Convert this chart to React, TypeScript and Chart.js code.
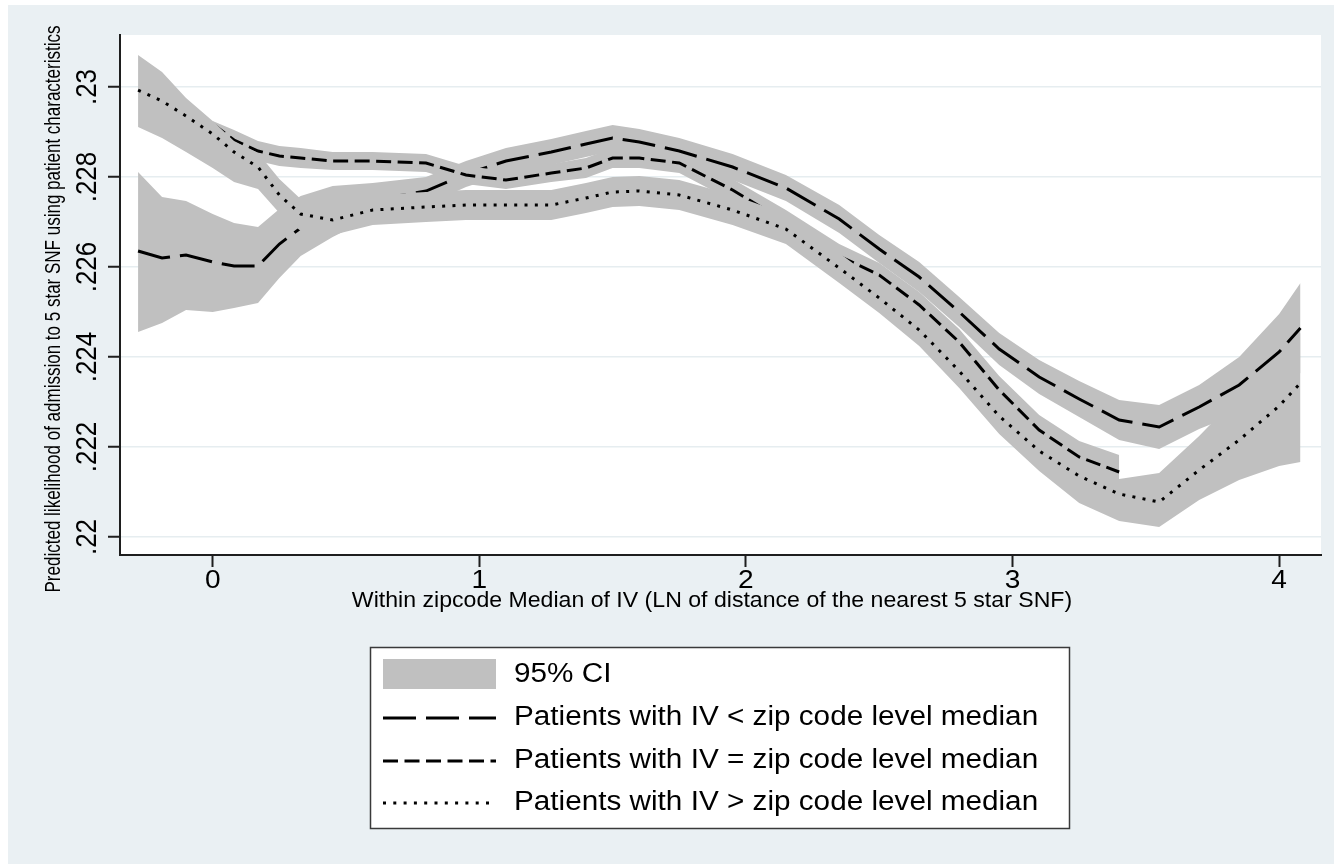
import React, { useEffect, useRef } from "react";
import { Chart, registerables } from "chart.js";

Chart.register(...registerables);

// ---------- data ----------
const xGrid = [-0.28, -0.19, -0.1, 0.0, 0.08, 0.17, 0.25, 0.33, 0.45, 0.6, 0.8, 0.95, 1.1, 1.27, 1.4, 1.5, 1.6, 1.75, 1.95, 2.15, 2.35, 2.5, 2.65, 2.8, 2.95, 3.1, 3.25, 3.4, 3.55, 3.7, 3.85, 4.0, 4.08];

// Patients with IV < zip code level median
const ivBelow = [0.226356, 0.2262, 0.226267, 0.226111, 0.226022, 0.226022, 0.226511, 0.226867, 0.2272, 0.227489, 0.227689, 0.228067, 0.228356, 0.228556, 0.228733, 0.228867, 0.228778, 0.228578, 0.228222, 0.227756, 0.227067, 0.2264, 0.225778, 0.225, 0.224178, 0.223556, 0.223067, 0.2226, 0.222444, 0.222889, 0.223378, 0.224111, 0.224644];
const ivBelowHi = [0.228111, 0.227556, 0.227467, 0.227178, 0.226978, 0.226889, 0.227289, 0.227578, 0.2278, 0.227867, 0.228, 0.228356, 0.228644, 0.228844, 0.229022, 0.229156, 0.229067, 0.228867, 0.228511, 0.228044, 0.227378, 0.226711, 0.226111, 0.225333, 0.224533, 0.223933, 0.223467, 0.223044, 0.222933, 0.223378, 0.224, 0.224956, 0.225644];
const ivBelowLo = [0.224556, 0.224756, 0.225044, 0.225, 0.225089, 0.2252, 0.225756, 0.226244, 0.226667, 0.227111, 0.227378, 0.227778, 0.228067, 0.228267, 0.228444, 0.228578, 0.228489, 0.228289, 0.227933, 0.227467, 0.226756, 0.226089, 0.225444, 0.224667, 0.223822, 0.223178, 0.222667, 0.222156, 0.221956, 0.2224, 0.222756, 0.223267, 0.223644];

// Patients with IV = zip code level median
const ivEqual = [null, null, null, 0.229178, 0.228822, 0.228578, 0.228467, 0.228422, 0.228356, 0.228356, 0.228311, 0.228044, 0.227933, 0.228089, 0.2282, 0.228422, 0.228422, 0.228311, 0.227711, 0.227, 0.226244, 0.225822, 0.225156, 0.224333, 0.223267, 0.222378, 0.221778, 0.221444, null, null, null, null, null];
const ivEqualHi = [null, null, null, 0.229244, 0.229044, 0.2288, 0.228689, 0.228644, 0.228556, 0.228556, 0.228511, 0.228244, 0.228133, 0.228289, 0.228422, 0.228644, 0.228644, 0.228533, 0.227956, 0.227267, 0.226511, 0.226089, 0.225444, 0.224622, 0.223578, 0.222711, 0.222133, 0.221822, null, null, null, null, null];
const ivEqualLo = [null, null, null, 0.228956, 0.2286, 0.228356, 0.228244, 0.2282, 0.228156, 0.228156, 0.228111, 0.227844, 0.227733, 0.227889, 0.227978, 0.2282, 0.2282, 0.228089, 0.227467, 0.226733, 0.225978, 0.225556, 0.224867, 0.224044, 0.222956, 0.222044, 0.221422, 0.221067, null, null, null, null, null];

// Patients with IV > zip code level median
const ivAbove = [0.229933, 0.229689, 0.229356, 0.228956, 0.228556, 0.228222, 0.2276, 0.227178, 0.227044, 0.227267, 0.227333, 0.227378, 0.227378, 0.227378, 0.227533, 0.227667, 0.227689, 0.2276, 0.227267, 0.226844, 0.225978, 0.225311, 0.2246, 0.223689, 0.222689, 0.221911, 0.221356, 0.220956, 0.220778, 0.221489, 0.222156, 0.222911, 0.223422];
const ivAboveHi = [0.230711, 0.230333, 0.229756, 0.229244, 0.2288, 0.228533, 0.227956, 0.227511, 0.227378, 0.2276, 0.227667, 0.227711, 0.227711, 0.227711, 0.227867, 0.228, 0.228022, 0.227933, 0.2276, 0.227178, 0.226311, 0.225644, 0.224956, 0.224067, 0.223089, 0.222244, 0.221711, 0.221289, 0.221422, 0.222244, 0.223156, 0.224022, 0.224533];
const ivAboveLo = [0.229111, 0.228867, 0.228556, 0.2282, 0.227889, 0.227733, 0.2272, 0.2268, 0.226711, 0.226933, 0.227, 0.227044, 0.227044, 0.227044, 0.2272, 0.227333, 0.227356, 0.227267, 0.226933, 0.226511, 0.225644, 0.224978, 0.224244, 0.223311, 0.222289, 0.221467, 0.220756, 0.220356, 0.220222, 0.220822, 0.221267, 0.221578, 0.221667];

const xTicks = [0, 1, 2, 3, 4];
const xTickLabels = ["0", "1", "2", "3", "4"];
const yTicks = [0.22, 0.222, 0.224, 0.226, 0.228, 0.23];
const yTickLabels = [".22", ".222", ".224", ".226", ".228", ".23"];

const xTitle = "Within zipcode Median of IV (LN of distance of the nearest 5 star SNF)";
const yTitle = "Predicted likelihood of admission to 5 star SNF using patient characteristics";
const legendLabels = [
  "95% CI",
  "Patients with IV < zip code level median",
  "Patients with IV = zip code level median",
  "Patients with IV > zip code level median",
];

// ---------- styles ----------
const GRAY = "#c0c0c0";
const BG = "#eaf0f3";
const AXIS = "#1e1e1e";
const FONT = '"Liberation Sans", Arial, sans-serif';
const DASH_LONG = [33, 10];
const DASH_MED = [15, 6.5];
const DASH_DOT = [3, 7.3];

function pts(arr: (number | null)[]) {
  return xGrid
    .map((x, i) => ({ x, y: arr[i] }))
    .filter((p) => p.y !== null && p.y !== undefined);
}

function drawText(
  ctx: CanvasRenderingContext2D,
  text: string,
  x: number,
  y: number,
  size: number,
  align: CanvasTextAlign,
  rotate: boolean,
  sx: number
) {
  ctx.save();
  ctx.translate(x, y);
  ctx.scale(sx, 1);
  if (rotate) ctx.rotate(-Math.PI / 2);
  ctx.font = `${size}px ${FONT}`;
  ctx.textAlign = align;
  ctx.textBaseline = "middle";
  ctx.fillStyle = "#000";
  ctx.fillText(text, 0, 0);
  ctx.restore();
}

const decorPlugin = {
  id: "decor",
  beforeDraw(chart: any) {
    const { ctx, chartArea } = chart;
    ctx.save();
    ctx.fillStyle = "#ffffff";
    ctx.fillRect(0, 0, chart.width, chart.height);
    ctx.fillStyle = BG;
    ctx.fillRect(8, 5, chart.width - 8, chart.height - 5);
    ctx.fillStyle = "#ffffff";
    ctx.fillRect(chartArea.left, chartArea.top, chartArea.right - chartArea.left, chartArea.bottom - chartArea.top);
    ctx.restore();
  },
  afterDraw(chart: any) {
    const { ctx, scales } = chart;
    const xs = scales.x;
    const ys = scales.y;
    // y tick labels (rotated)
    yTicks.forEach((v, i) => {
      drawText(ctx, yTickLabels[i], 88, ys.getPixelForValue(v), 26, "center", true, 1.1);
    });
    // x tick labels
    xTicks.forEach((v, i) => {
      drawText(ctx, xTickLabels[i], xs.getPixelForValue(v), 581, 26, "center", false, 1.08);
    });
    // axis titles
    drawText(ctx, xTitle, 712, 601, 22, "center", false, 1.05);
    drawText(ctx, yTitle, 54, 309, 17, "center", true, 1.35);

    // legend
    const bx = 370, by = 647, bw = 699, bh = 181;
    ctx.save();
    ctx.fillStyle = "#ffffff";
    ctx.fillRect(bx, by, bw, bh);
    ctx.strokeStyle = "#3a3a3a";
    ctx.lineWidth = 1.5;
    ctx.strokeRect(bx + 0.5, by + 0.5, bw, bh);
    const rows = [675, 718, 761, 803];
    const sx0 = 383, sx1 = 496;
    ctx.fillStyle = GRAY;
    ctx.fillRect(sx0, 659, sx1 - sx0, 30);
    const dashes = [DASH_LONG, DASH_MED, DASH_DOT];
    ctx.strokeStyle = "#000";
    ctx.lineWidth = 3;
    ctx.lineCap = "butt";
    dashes.forEach((d, i) => {
      ctx.setLineDash(d);
      ctx.beginPath();
      ctx.moveTo(sx0, rows[i + 1]);
      ctx.lineTo(sx1, rows[i + 1]);
      ctx.stroke();
    });
    ctx.setLineDash([]);
    ctx.restore();
    legendLabels.forEach((t, i) => {
      drawText(ctx, t, 514, rows[i], 27, "left", false, 1.1);
    });
  },
};

export default function App() {
  const ref = useRef<HTMLCanvasElement | null>(null);

  useEffect(() => {
    if (!ref.current) return;
    const band = (hi: (number | null)[], lo: (number | null)[], order: number) => [
      {
        data: pts(hi),
        borderColor: "rgba(0,0,0,0)",
        borderWidth: 0,
        pointRadius: 0,
        fill: "+1",
        backgroundColor: GRAY,
        order,
      },
      {
        data: pts(lo),
        borderColor: "rgba(0,0,0,0)",
        borderWidth: 0,
        pointRadius: 0,
        fill: false,
        order,
      },
    ];
    const line = (arr: (number | null)[], dash: number[], order: number) => ({
      data: pts(arr),
      borderColor: "#000",
      borderWidth: 3,
      borderDash: dash,
      borderCapStyle: "butt",
      pointRadius: 0,
      fill: false,
      tension: 0,
      order,
    });

    const chart = new Chart(ref.current, {
      type: "line",
      data: {
        datasets: [
          ...band(ivBelowHi, ivBelowLo, 6),
          line(ivBelow, DASH_LONG, 5),
          ...band(ivEqualHi, ivEqualLo, 4),
          line(ivEqual, DASH_MED, 3),
          ...band(ivAboveHi, ivAboveLo, 2),
          line(ivAbove, DASH_DOT, 1),
        ] as any,
      },
      options: {
        animation: false,
        responsive: false,
        devicePixelRatio: 1,
        layout: { padding: { top: 35, right: 13, left: 0, bottom: 0 } },
        plugins: {
          legend: { display: false },
          title: { display: false },
          tooltip: { enabled: false },
        },
        elements: { point: { radius: 0 } },
        scales: {
          x: {
            type: "linear",
            min: -0.3477,
            max: 4.157,
            afterBuildTicks: (s: any) => {
              s.ticks = xTicks.map((v) => ({ value: v }));
            },
            afterFit: (s: any) => {
              s.height = 309;
            },
            ticks: { display: false },
            grid: {
              drawOnChartArea: false,
              drawTicks: true,
              tickLength: 12,
              tickColor: AXIS,
              tickWidth: 2,
            },
            border: { display: true, color: AXIS, width: 2 },
          },
          y: {
            type: "linear",
            min: 0.2196,
            max: 0.231156,
            afterBuildTicks: (s: any) => {
              s.ticks = yTicks.map((v) => ({ value: v }));
            },
            afterFit: (s: any) => {
              s.width = 120;
            },
            ticks: { display: false },
            grid: {
              color: "#e6edf0",
              lineWidth: 1.5,
              drawTicks: true,
              tickLength: 12,
              tickColor: AXIS,
              tickWidth: 2,
            },
            border: { display: true, color: AXIS, width: 2 },
          },
        },
      } as any,
      plugins: [decorPlugin],
    });
    return () => chart.destroy();
  }, []);

  return (
    <div style={{ position: "absolute", left: 0, top: 0, width: 1334, height: 864 }}>
      <canvas ref={ref} width={1334} height={864} style={{ display: "block" }} />
    </div>
  );
}
